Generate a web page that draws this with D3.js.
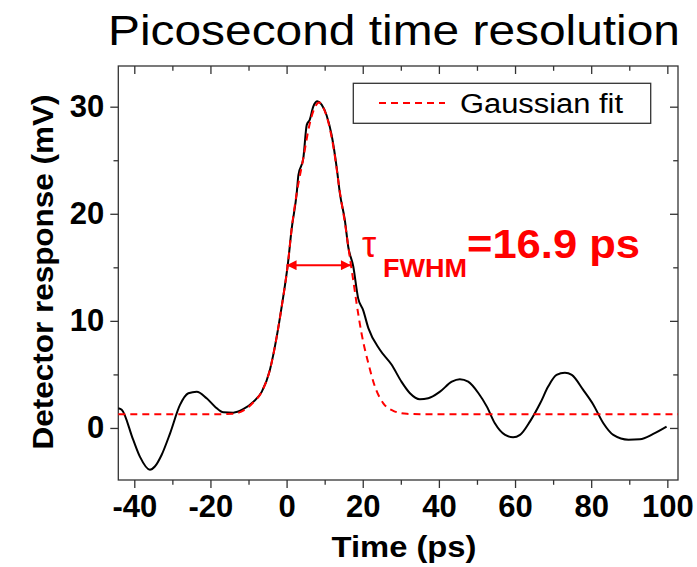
<!DOCTYPE html>
<html lang="en">

<head>
    <meta charset="UTF-8">
    <title>Picosecond time resolution</title>
    <script src="https://d3js.org/d3.v7.min.js"></script>
    <style>
        body { margin: 0; background: #fff; }
        text { font-family: "Liberation Sans", Arial, sans-serif; }
        .axis path { display: none; }
        .axis line { stroke: #333; stroke-width: 1.3; }
    </style>
</head>

<body>
    <svg class="chart"></svg>
    <script>
        // Data - detector trace
        const timePs = [-44.2, -43.3, -40.3, -38.5, -35.9, -34.6, -32.8, -30.6, -28.0, -25.8, -23.6, -21.0, -18.8, -16.6,
            -14.0, -11.4, -8.7, -6.5, -4.4, -2.6, -1.3, 0.4, 1.3, 2.65, 3.1, 4.4, 5.3, 6.1, 7.0, 8.1, 9.2, 10.5, 11.8,
            13.2, 14.0, 15.3, 16.2, 17.5, 18.8, 20.1, 21.5, 24.5, 27.6, 30.2, 32.4, 35.0, 37.2, 40.3, 43.4, 45.5, 47.7,
            50.4, 52.6, 54.7, 57.4, 59.5, 61.3, 63.9, 66.6, 68.7, 70.9, 73.1, 74.9, 77.9, 80.6, 83.2, 85.8, 89.8, 92.8,
            96.3, 99.8];
        const responseMv = [1.84, 1.7, -1.1, -2.7, -3.9, -3.6, -2.5, -0.5, 2.15, 3.24, 3.39, 2.77, 1.99, 1.46,
            1.43, 1.75, 2.46, 3.39, 5.4, 8.5, 11.3, 15.5, 18.5, 21.9, 23.6, 25.2, 28.3, 28.8, 30.0, 30.5, 30.2, 29.2, 27.4,
            24.2, 21.9, 19.4, 16.9, 15.1, 12.1, 11.0, 9.3, 7.3, 5.9, 4.3, 3.24, 2.68, 2.77, 3.39, 4.32, 4.55, 4.32,
            3.24, 1.99, 0.44, -0.65, -0.87, -0.65, 0.59, 2.3, 3.86, 4.95, 5.16, 4.95, 3.55, 2.15, 0.44, -0.65, -1.1, -1.06,
            -0.56, 0.12];

        // Gaussian fit curve, also
        const fitTime = [-44.2, -20, -14, -11, -8.7, -6.5, -4.4, -2.6, -1.3, 0.4, 1.3, 2.65, 4.4, 6.0, 7.5, 8.5, 9.5,
            11, 12.5, 14, 15.3, 16.7, 17.5, 18.4, 19.7, 21.5, 23.2, 25.4, 28.0, 31.6, 36, 102.8];
        const fitMv = [1.28, 1.28, 1.32, 1.7, 2.4, 3.4, 5.4, 8.5, 11.3, 15.5, 18.5, 21.9, 25.2, 28.3, 30.0, 30.4, 30.0,
            28.5, 25.8, 22.0, 19.2, 15.7, 13.8, 11.6, 8.8, 6.0, 3.86, 2.3, 1.6, 1.32, 1.28, 1.28];

        // FWHM marker (ps, ps, mV)
        const fwhm = [0, 16.9];
        const fwhmLevel = 15.2;

        const xMajor = [-40, -20, 0, 20, 40, 60, 80, 100];
        const xMinor = [-30, -10, 10, 30, 50, 70, 90];
        const yMajor = [0, 10, 20, 30];
        const yMinor = [5, 15, 25];

        // Dimensions
        const width = 697, height = 567;
        const plot = { left: 118.3, right: 678, top: 66, bottom: 480 };

        const svg = d3.select(".chart").attr("width", width).attr("height", height);

        const x = d3.scaleLinear().domain([-44.2, 102.8]).range([plot.left, plot.right]);
        const y = d3.scaleLinear().domain([-4.86, 33.8]).range([plot.bottom, plot.top]);

        // Arrow heads
        const defs = svg.append("defs");
        ["start", "end"].forEach(k => {
            defs.append("marker")
                .attr("id", "head-" + k)
                .attr("viewBox", "0 0 10 10")
                .attr("refX", k === "end" ? 10 : 0).attr("refY", 5)
                .attr("markerWidth", 6).attr("markerHeight", 5)
                .attr("markerUnits", "strokeWidth")
                .attr("orient", "auto")
                .append("path")
                .attr("d", k === "end" ? "M0,0L10,5L0,10z" : "M10,0L0,5L10,10z")
                .attr("fill", "#ff0000");
        });

        // Axes: bottom/left ticks outward, top/right mirrored inward
        const fmt = d => String(d);
        function addAxis(axisFn, scale, major, minor, size, tf, labels) {
            svg.append("g").attr("class", "axis").attr("transform", tf)
                .call(axisFn(scale).tickValues(minor).tickSize(size * 0.6).tickFormat(""));
            const gMaj = svg.append("g").attr("class", "axis").attr("transform", tf)
                .call(axisFn(scale).tickValues(major).tickSize(size).tickPadding(labels ? 7 : 0)
                    .tickFormat(labels ? fmt : ""));
            gMaj.selectAll("text")
                .attr("font-size", 31).attr("font-weight", "bold").attr("fill", "#000")
                .style("font-family", "'Liberation Sans', Arial, sans-serif");
            return gMaj;
        }
        addAxis(d3.axisBottom, x, xMajor, xMinor, 8, `translate(0,${plot.bottom})`, true);
        addAxis(d3.axisTop, x, xMajor, xMinor, -8, `translate(0,${plot.top})`, false);
        const yAx = addAxis(d3.axisLeft, y, yMajor, yMinor, 8, `translate(${plot.left},0)`, true);
        yAx.selectAll("text").attr("x", -14);
        addAxis(d3.axisRight, y, yMajor, yMinor, -8, `translate(${plot.right},0)`, false);

        // Frame
        svg.append("rect")
            .attr("x", plot.left).attr("y", plot.top)
            .attr("width", plot.right - plot.left).attr("height", plot.bottom - plot.top)
            .attr("fill", "none").attr("stroke", "#333").attr("stroke-width", 1.3);

        // Lines
        const line = d3.line().x(d => x(d[0])).y(d => y(d[1])).curve(d3.curveMonotoneX);
        svg.append("path")
            .datum(d3.zip(timePs, responseMv))
            .attr("d", line)
            .attr("fill", "none").attr("stroke", "#000").attr("stroke-width", 2);
        svg.append("path")
            .datum(d3.zip(fitTime, fitMv))
            .attr("d", line)
            .attr("fill", "none").attr("stroke", "#ff0000").attr("stroke-width", 2)
            .attr("stroke-dasharray", "7,5");

        // FWHM arrow
        svg.append("line")
            .attr("x1", x(fwhm[0])).attr("x2", x(fwhm[1]))
            .attr("y1", y(fwhmLevel)).attr("y2", y(fwhmLevel))
            .attr("stroke", "#ff0000").attr("stroke-width", 2)
            .attr("marker-start", "url(#head-start)").attr("marker-end", "url(#head-end)");

        // Annotation
        const ann = svg.append("g").attr("fill", "#ff0000");
        ann.append("text").attr("x", 362).attr("y", 257).attr("font-size", 36).text("τ");
        ann.append("text").attr("x", 383).attr("y", 277).attr("font-size", 25).attr("font-weight", "bold")
            .attr("textLength", 84).attr("lengthAdjust", "spacingAndGlyphs").text("FWHM");
        ann.append("text").attr("x", 467).attr("y", 258).attr("font-size", 41).attr("font-weight", "bold")
            .attr("textLength", 173).attr("lengthAdjust", "spacingAndGlyphs").text("=16.9 ps");

        // Legend
        const leg = svg.append("g");
        leg.append("rect").attr("x", 353.3).attr("y", 83.3).attr("width", 297.4).attr("height", 40)
            .attr("fill", "#fff").attr("stroke", "#333").attr("stroke-width", 1.3);
        leg.append("line").attr("x1", 379).attr("x2", 445).attr("y1", 103).attr("y2", 103)
            .attr("stroke", "#ff0000").attr("stroke-width", 2).attr("stroke-dasharray", "7,5");
        leg.append("text").attr("x", 460).attr("y", 113).attr("font-size", 27)
            .attr("textLength", 163).attr("lengthAdjust", "spacingAndGlyphs").text("Gaussian fit");

        // Titles
        svg.append("text").attr("x", 108).attr("y", 45).attr("font-size", 43)
            .attr("textLength", 572).attr("lengthAdjust", "spacingAndGlyphs")
            .text("Picosecond time resolution");
        svg.append("text").attr("x", 404).attr("y", 557).attr("text-anchor", "middle")
            .attr("font-size", 29).attr("font-weight", "bold")
            .attr("textLength", 145).attr("lengthAdjust", "spacingAndGlyphs").text("Time (ps)");
        svg.append("text")
            .attr("transform", "translate(53,272) rotate(-90)")
            .attr("text-anchor", "middle")
            .attr("font-size", 29).attr("font-weight", "bold")
            .attr("textLength", 355).attr("lengthAdjust", "spacingAndGlyphs")
            .text("Detector response (mV)");
    </script>
</body>

</html>
